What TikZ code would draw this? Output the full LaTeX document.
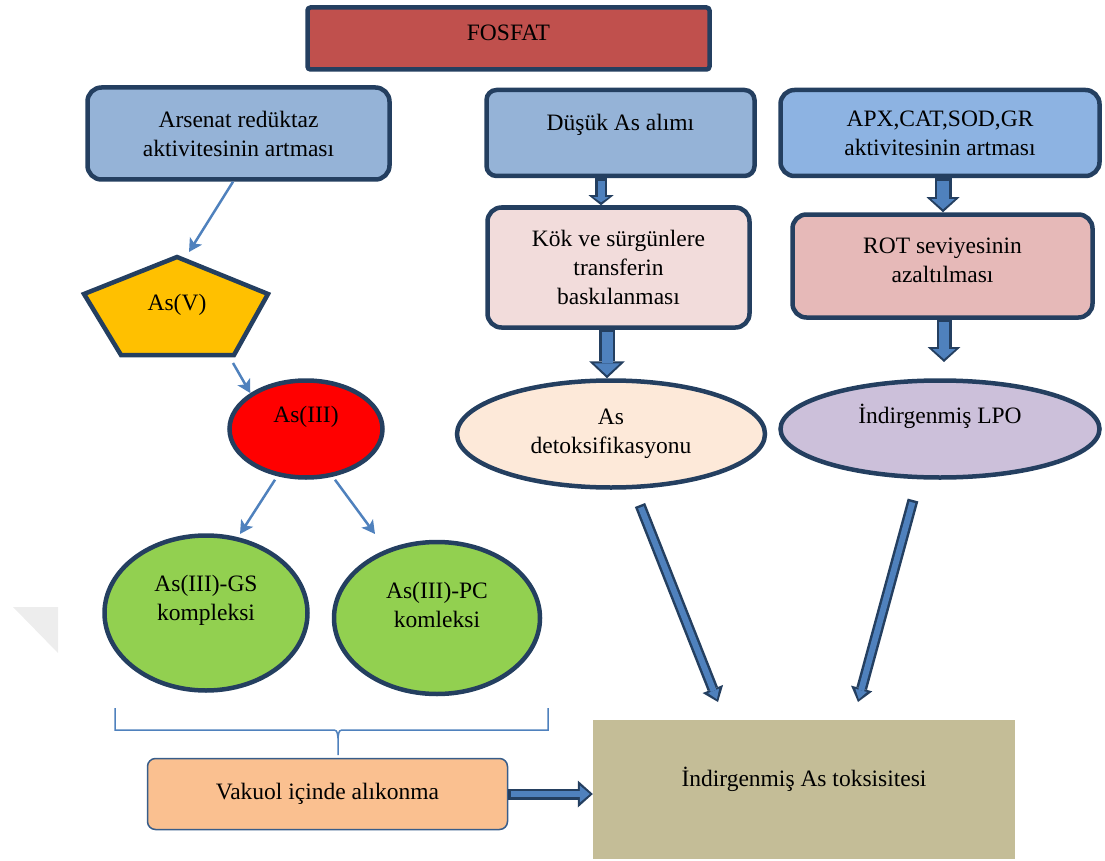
\documentclass[tikz,border=0pt]{standalone}
\usepackage{fontspec}
\setmainfont{Liberation Serif}
\usetikzlibrary{arrows.meta,shapes.geometric,calc}
\definecolor{navy}{HTML}{243F60}
\definecolor{arrblue}{HTML}{4F81BD}
\definecolor{cfosfat}{HTML}{C0504D}
\definecolor{cblue}{HTML}{95B3D7}
\definecolor{cblue2}{HTML}{8DB3E2}
\definecolor{ckok}{HTML}{F2DCDB}
\definecolor{crot}{HTML}{E6B9B8}
\definecolor{cdet}{HTML}{FDE9D9}
\definecolor{clpo}{HTML}{CCC0DA}
\definecolor{casv}{HTML}{FFC000}
\definecolor{cas3}{HTML}{FF0000}
\definecolor{cgreen}{HTML}{92D050}
\definecolor{cvak}{HTML}{FAC090}
\definecolor{ctoks}{HTML}{C4BD97}
\definecolor{cvakb}{HTML}{385D8A}
\newcommand\blkarrow[5]{%
  \pgfmathsetmacro\bkA{#3-5}%
  \pgfmathsetmacro\bkB{#4-10}%
  \pgfmathsetmacro\bkC{#5-5}%
  \draw[navy, line width=#3pt, -{Triangle[length=#5pt,width=#4pt,line width=0pt]}] (#1) -- (#2);
  \draw[arrblue, line width=\bkA pt, shorten <=2.5pt, shorten >=3pt, -{Triangle[length=\bkC pt,width=\bkB pt,line width=0pt]}] (#1) -- (#2);
}
\begin{document}
\begin{tikzpicture}[x=1pt,y=-1pt,
  every node/.style={font=\fontsize{23.5}{29}\selectfont, align=center, inner sep=0pt},
  box/.style={draw=navy, line width=4.5pt, rounded corners=14pt},
  oval/.style={ellipse, draw=navy, line width=4.5pt},
  thinarr/.style={arrblue, line width=2.5pt, -{Stealth[length=13pt,width=14pt,inset=3pt]}},
  brace/.style={arrblue, line width=1.5pt}]
\useasboundingbox (0,0) rectangle (1105,861);
\fill[black!7] (13,607) -- (58,607) -- (58,653) -- cycle;

\node[box, fill=cfosfat, rounded corners=3pt, minimum width=402pt, minimum height=62pt, text depth=11pt] (fosfat) at (508.5,38.5) {FOSFAT};
\node[box, fill=cblue, minimum width=302pt, minimum height=92pt] (arsenat) at (238.5,133.5) {Arsenat redüktaz\\aktivitesinin artması};
\node[box, fill=cblue, rounded corners=10pt, minimum width=268pt, minimum height=86pt, text depth=22pt] (dusuk) at (620.5,133) {Düşük As alımı};
\node[box, fill=cblue2, minimum width=319pt, minimum height=86pt] (apx) at (940,133) {APX,CAT,SOD,GR\\aktivitesinin artması};
\node[box, fill=ckok, minimum width=262pt, minimum height=120pt] (kok) at (618.5,267.5) {Kök ve sürgünlere\\transferin\\baskılanması};
\node[box, fill=crot, minimum width=300pt, minimum height=103pt, text depth=12pt] (rot) at (942.5,266) {ROT seviyesinin\\azaltılması};
\node[oval, fill=cdet, minimum width=308pt, minimum height=107pt] (asdet) at (611,434) {As\\detoksifikasyonu};
\node[oval, fill=clpo, minimum width=319pt, minimum height=97pt, text depth=30pt] (lpo) at (940,429) {İndirgenmiş LPO};
\draw[navy, line width=4.5pt, fill=casv, line join=miter] (177,257) -- (268,294) -- (234,355) -- (121,355) -- (84,294) -- cycle;
\node (asv) at (177,305) {As(V)};
\node[oval, fill=cas3, minimum width=153pt, minimum height=97pt, text depth=30pt] (as3) at (306,429) {As(III)};
\node[oval, fill=cgreen, minimum width=203pt, minimum height=155pt, text depth=31pt] (gs) at (206,613) {As(III)-GS\\kompleksi};
\node[oval, fill=cgreen, minimum width=206pt, minimum height=152pt, text depth=26pt] (pc) at (437,618) {As(III)-PC\\komleksi};
\node[draw=cvakb, line width=1.5pt, rounded corners=8pt, fill=cvak, minimum width=360pt, minimum height=71pt] (vakuol) at (327.5,794) {Vakuol içinde alıkonma};
\node[fill=ctoks, minimum width=422pt, minimum height=139pt, text depth=25pt] (toks) at (804,789.5) {İndirgenmiş As toksisitesi};

% thin arrows
\coordinate (t1x) at (233,0);
\coordinate (t1e) at (189,252);
\coordinate (t2s) at (233,363);
\coordinate (gse) at (240,534);
\coordinate (pce) at (375,534);
\draw[thinarr] (arsenat.south -| t1x) -- (t1e);
\draw[thinarr] (t2s) -- (as3.north west);
\draw[thinarr] ([xshift=-31pt]as3.south) -- (gse);
\draw[thinarr] ([xshift=29pt]as3.south) -- (pce);

% brace
\coordinate (bl) at (115,708);
\coordinate (br) at (548,708);
\coordinate (bt) at (338,755);
\draw[brace] (bl) -- (115,730) -- (331,730) .. controls (337,730) .. (338,738) -- (bt);
\draw[brace] (br) -- (548,730) -- (345,730) .. controls (339,730) .. (338,738);

% block arrows
\coordinate (xa) at (601,0);
\coordinate (xb) at (607,0);
\coordinate (xc) at (943,0);
\coordinate (xd) at (944,0);
\coordinate (lpoarr) at (944,362);
\coordinate (d1s) at (640,505);
\coordinate (d1e) at (718,702);
\coordinate (d2s) at (913,500);
\coordinate (d2e) at (858,702);
\blkarrow{dusuk.south -| xa}{kok.north -| xa}{12}{25}{10}
\blkarrow{kok.south -| xb}{asdet.north -| xb}{16}{36}{17}
\blkarrow{apx.south -| xc}{rot.north -| xc}{17}{33}{15}
\blkarrow{rot.south -| xd}{lpoarr}{15}{33}{15}
\blkarrow{vakuol.east}{toks.west |- vakuol.east}{11}{27}{15}
\blkarrow{d1s}{d1e}{11}{22}{14}
\blkarrow{d2s}{d2e}{11}{22}{14}
\end{tikzpicture}
\end{document}
